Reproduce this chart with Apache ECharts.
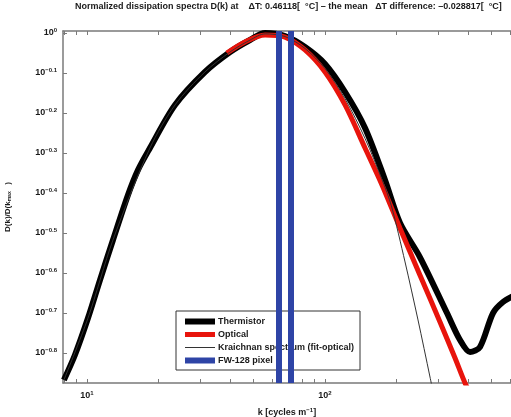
<!DOCTYPE html>
<html>
<head>
<meta charset="utf-8">
<script src="https://cdn.jsdelivr.net/npm/echarts@6.0.0/dist/echarts.min.js"></script>
<style>
    html, body { margin: 0; padding: 0; background: #fff; }
    #chart { width: 511px; height: 417px; }
</style>
</head>
<body>
<div id="chart"></div>
<script>
// thermistor spectrum
var thermK = [8.0, 8.9, 10.1, 11.34, 12.86, 14.87, 16.38, 18.39, 23.43, 31.3, 39.9, 48.4, 56.0, 67.9, 82.4, 100, 121.4, 147.3, 178.7, 206.6, 250.7, 325.5, 369.2, 406.7, 448.0, 508.0, 559.6, 628];
var thermD = [0.1357, 0.1567, 0.1938, 0.2412, 0.3038, 0.3936, 0.4545, 0.5158, 0.6607, 0.799, 0.8964, 0.9605, 1.0, 0.983, 0.923, 0.837, 0.712, 0.579, 0.429, 0.335, 0.275, 0.1995, 0.1708, 0.1594, 0.1641, 0.1995, 0.2126, 0.2213];

// optical spectrum
var optK = [38.7, 46.1, 56.0, 67.9, 82.4, 100, 121.4, 147.3, 173.6, 206.6, 250.7, 304.2, 351.8, 387.5, 410];
var optD = [0.891, 0.9495, 0.9886, 0.977, 0.907, 0.799, 0.661, 0.516, 0.417, 0.325, 0.248, 0.1895, 0.154, 0.1334, 0.125];

// Kraichnan fit to optical
var kraK = [8.0, 10.1, 12.86, 18.39, 23.43, 31.3, 39.9, 48.4, 56.0, 67.9, 82.4, 100, 121.4, 147.3, 173.6, 190, 216.9, 245.9, 276.2, 290];
var kraD = [0.1357, 0.1938, 0.3038, 0.5158, 0.6607, 0.799, 0.8964, 0.96, 0.995, 0.98, 0.915, 0.815, 0.685, 0.545, 0.43, 0.37, 0.2677, 0.1917, 0.138, 0.12];

// FW-128 pixel positions
var pixelK = [63.8, 71.9];

// axis ticks
var xMinorTicks = [8, 9, 10, 20, 30, 40, 50, 60, 70, 80, 90, 100, 200, 300, 400, 500, 600];
var xLabelTicks = [10, 100];
var yTickExp = [-0.8, -0.7, -0.6, -0.5, -0.4, -0.3, -0.2, -0.1, 0];

function pairs(xs, ys) {
    var out = [];
    for (var i = 0; i < xs.length; i++) {
        out.push([xs[i], ys[i]]);
    }
    return out;
}

var yTicks = yTickExp.map(function (e) { return Math.pow(10, e); });

var textColor = '#1a1a1a';
var axisColor = '#7a7a7a';
var xMin = 7.93, xMax = 604.6;
var yMin = Math.pow(10, -0.875), yMax = Math.pow(10, 0.005);
var supStyle = { fontSize: 6, fontWeight: 'bold', padding: [0, 0, 6, 0] };

var chart = echarts.init(document.getElementById('chart'));

chart.setOption({
    animation: false,
    backgroundColor: '#fff',
    textStyle: { fontFamily: 'Liberation Sans' },
    title: {
        text: 'Normalized dissipation spectra D(k) at    \u0394T: 0.46118[  \u00b0C] \u2013 the mean   \u0394T difference: \u20130.028817[  \u00b0C]',
        left: 75,
        top: 2,
        padding: 0,
        textStyle: { fontSize: 9, fontWeight: 'bold', color: textColor }
    },
    grid: { left: 63, right: 0, top: 31, bottom: 34, outerBoundsMode: 'none' },
    legend: {
        orient: 'vertical',
        left: 176,
        top: 311,
        itemWidth: 30,
        itemHeight: 6,
        itemGap: 4,
        padding: [6, 6, 5, 6],
        backgroundColor: '#fff',
        borderColor: '#333',
        borderWidth: 1,
        itemStyle: { opacity: 0 },
        lineStyle: { width: 'inherit' },
        textStyle: { fontSize: 9, fontWeight: 'bold', color: textColor, padding: [0, 0, 0, -2] },
        data: ['Thermistor', 'Optical', 'Kraichnan spectrum (fit-optical)', 'FW-128 pixel']
    },
    xAxis: [{
        type: 'log',
        min: xMin,
        max: xMax,
        name: 'k [cycles m{sup|\u22121}]',
        nameLocation: 'middle',
        nameGap: 24,
        nameTextStyle: {
            fontSize: 9, fontWeight: 'bold', color: textColor,
            rich: { sup: supStyle }
        },
        axisLine: { show: true, lineStyle: { color: axisColor, width: 1.5 } },
        axisTick: { inside: true, length: 4, customValues: xMinorTicks, lineStyle: { color: axisColor } },
        axisLabel: {
            customValues: xLabelTicks,
            margin: 7,
            formatter: function (v) {
                return '10{sup|' + Math.round(Math.log(v) / Math.LN10) + '}';
            },
            fontSize: 9, fontWeight: 'bold', color: textColor,
            rich: { sup: supStyle }
        },
        splitLine: { show: false },
        minorTick: { show: false }
    }, {
        type: 'log',
        position: 'top',
        min: xMin,
        max: xMax,
        axisLine: { show: true, lineStyle: { color: axisColor, width: 1.5 } },
        axisTick: { inside: true, length: 4, customValues: xMinorTicks, lineStyle: { color: axisColor } },
        axisLabel: { show: false },
        splitLine: { show: false }
    }],
    yAxis: {
        type: 'log',
        min: yMin,
        max: yMax,
        name: 'D(k)/D(k{sub|max}   )',
        nameLocation: 'middle',
        nameRotate: 90,
        nameGap: 51,
        nameTextStyle: {
            fontSize: 8, fontWeight: 'bold', color: textColor,
            rich: { sub: { fontSize: 5, fontWeight: 'bold', padding: [4, 0, 0, 0] } }
        },
        axisLine: { show: true, lineStyle: { color: axisColor, width: 1.5 } },
        axisTick: { inside: true, length: 4, customValues: yTicks, lineStyle: { color: axisColor } },
        axisLabel: {
            customValues: yTicks,
            margin: 6,
            formatter: function (v) {
                var e = Math.round(Math.log(v) / Math.LN10 * 10) / 10;
                var s = e === 0 ? '0' : '\u2212' + Math.abs(e).toFixed(1);
                return '10{sup|' + s + '}';
            },
            fontSize: 9, fontWeight: 'bold', color: textColor,
            rich: { sup: supStyle }
        },
        splitLine: { show: false }
    },
    series: [{
        name: 'Thermistor',
        type: 'line',
        data: pairs(thermK, thermD),
        symbol: 'none',
        smooth: 0.3,
        lineStyle: { color: '#000', width: 6 },
        itemStyle: { color: '#000' },
        z: 2
    }, {
        name: 'Optical',
        type: 'line',
        data: pairs(optK, optD),
        symbol: 'none',
        smooth: 0.3,
        lineStyle: { color: '#e8140c', width: 5 },
        itemStyle: { color: '#e8140c' },
        z: 3
    }, {
        name: 'Kraichnan spectrum (fit-optical)',
        type: 'line',
        data: pairs(kraK, kraD),
        symbol: 'none',
        smooth: 0.3,
        lineStyle: { color: '#333', width: 1 },
        itemStyle: { color: '#333' },
        z: 4
    }, {
        name: 'FW-128 pixel',
        type: 'line',
        data: [],
        symbol: 'none',
        lineStyle: { color: '#2e44a6', width: 6 },
        itemStyle: { color: '#2e44a6' },
        z: 5,
        markLine: {
            silent: true,
            symbol: ['none', 'none'],
            label: { show: false },
            lineStyle: { color: '#2e44a6', width: 6, type: 'solid' },
            emphasis: { disabled: true },
            data: pixelK.map(function (k) { return { xAxis: k }; })
        }
    }]
});
</script>
</body>
</html>
